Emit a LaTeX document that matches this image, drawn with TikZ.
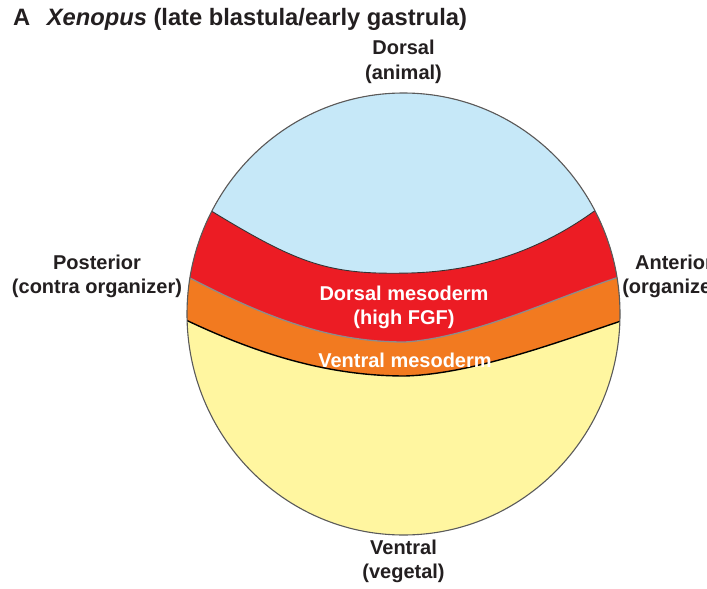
\documentclass[tikz,border=0pt]{standalone}
\usepackage{fontspec}
\setmainfont{Liberation Sans}
\definecolor{animalblue}{RGB}{198,232,248}
\definecolor{dmred}{RGB}{236,28,36}
\definecolor{vmorange}{RGB}{242,122,32}
\definecolor{vegyellow}{RGB}{255,246,160}
\definecolor{labelgray}{RGB}{35,31,32}
\definecolor{rimgray}{RGB}{90,90,90}
\definecolor{seamgray}{RGB}{140,140,140}
\begin{document}
\begin{tikzpicture}[x=1pt,y=-1pt,
  lbl/.style={font=\bfseries\fontsize{20}{24.5}\selectfont, text=labelgray, inner sep=0pt, anchor=base},
  inlbl/.style={font=\bfseries\fontsize{20}{24.5}\selectfont, text=white, inner sep=0pt, anchor=base},
  ttl/.style={font=\bfseries\fontsize{23.7}{28}\selectfont, text=labelgray, inner sep=0pt, anchor=base west}]
\useasboundingbox (0,0) rectangle (707,589);
\fill[white] (0,0) rectangle (707,589);

\coordinate (c) at (403.5,314);

% regions clipped to the embryo
\begin{scope}
  \clip (c) ellipse [x radius=216.5, y radius=221];
  \fill[vegyellow] (c) ellipse [x radius=216.5, y radius=221];
  % orange: above black seam
  \fill[vmorange] (159,307) -- (188,321) .. controls (260,355) and (330,376) .. (405,376)
      .. controls (470,374) and (550,345) .. (618,322) -- (652,310) -- (652,60) -- (159,60) -- cycle;
  % red: above gray seam
  \fill[dmred] (163,264) -- (190,278) .. controls (280,325) and (340,342) .. (405,342)
      .. controls (470,338) and (550,300) .. (616,278) -- (649,267) -- (649,60) -- (163,60) -- cycle;
  % blue: above upper seam
  \fill[animalblue] (187,196) -- (213,212) .. controls (300,265) and (330,275) .. (410,273)
      .. controls (480,271) and (540,250) .. (593,212) -- (620,193) -- (620,60) -- (187,60) -- cycle;
  % seams
  \draw[black!80, line width=0.9pt] (187,196) -- (213,212) .. controls (300,265) and (330,275) .. (410,273)
      .. controls (480,271) and (540,250) .. (593,212) -- (620,193);
  \draw[seamgray, line width=1.3pt] (163,264) -- (190,278) .. controls (280,325) and (340,342) .. (405,342)
      .. controls (470,338) and (550,300) .. (616,278) -- (649,267);
  \draw[black, line width=1.4pt] (159,307) -- (188,321) .. controls (260,355) and (330,376) .. (405,376)
      .. controls (470,374) and (550,345) .. (618,322) -- (652,310);
\end{scope}
\draw[rimgray, line width=1.1pt] (c) ellipse [x radius=216.5, y radius=221];

% title
\node[ttl] (title) at (13,25) {A\hspace{0.7em}\textit{Xenopus} (late blastula/early gastrula)};

% axis labels
\node[lbl] (dors1) at (403.5,54.5) {Dorsal};
\node[lbl] (dors2) at (403.5,79) {(animal)};
\node[lbl] (vent1) at (403.5,554) {Ventral};
\node[lbl] (vent2) at (403.5,578.5) {(vegetal)};
\node[lbl] (post1) at (97,269) {Posterior};
\node[lbl] (post2) at (97,293.5) {(contra organizer)};
\node[lbl] (ant1) at (674,269) {Anterior};
\node[lbl] (ant2) at (674,293.5) {(organizer)};

% region labels
\node[inlbl] (dm1) at (404,300) {Dorsal mesoderm};
\node[inlbl] (dm2) at (404,324.5) {(high FGF)};
\node[inlbl] (vm) at (405,367) {Ventral mesoderm};
\end{tikzpicture}
\end{document}
